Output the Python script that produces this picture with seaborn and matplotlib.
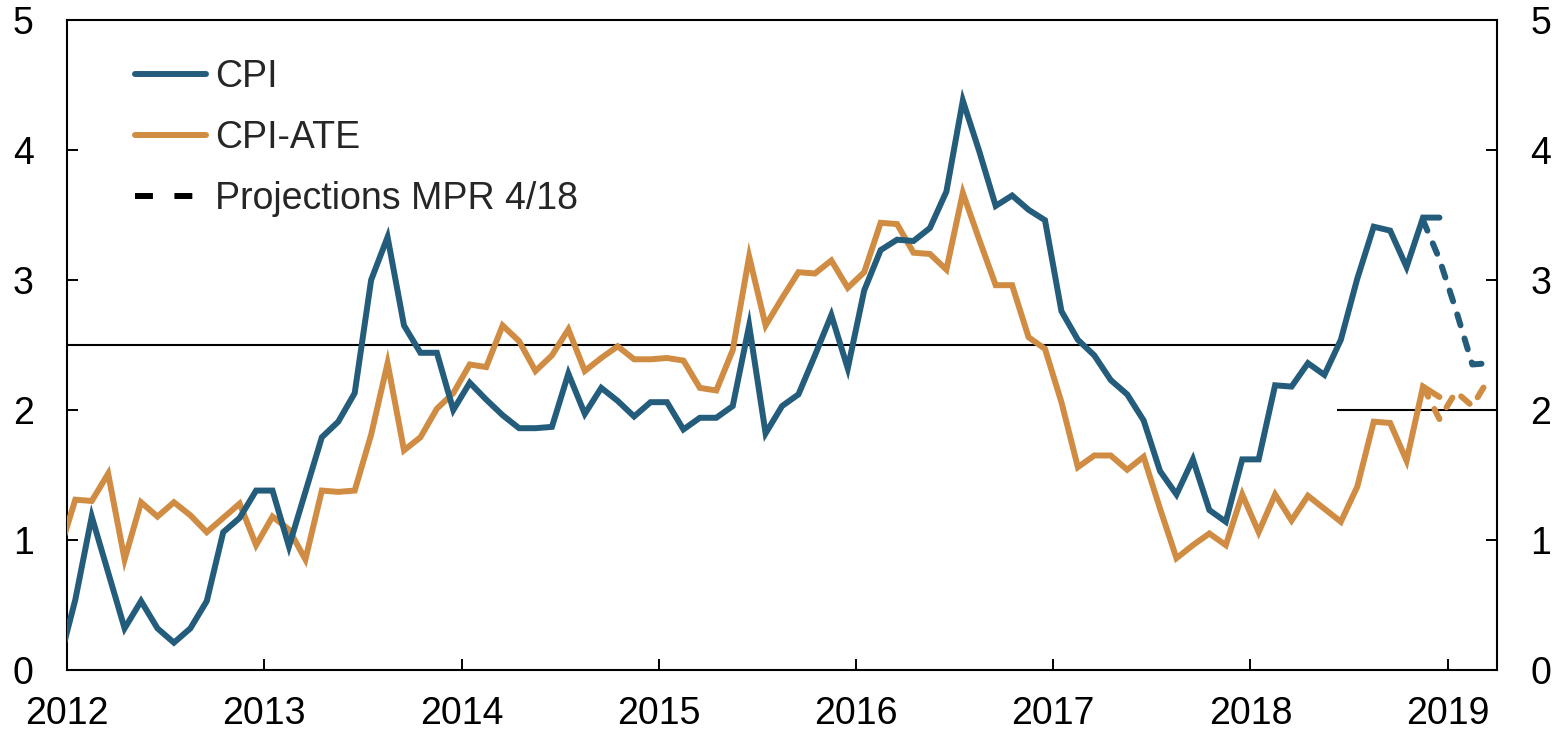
import matplotlib
matplotlib.use("Agg")
import matplotlib.pyplot as plt
from matplotlib.lines import Line2D
import seaborn as sns
import numpy as np
import pandas as pd

# monthly values, Jan 2012 - Dec 2018 (first entry is Dec 2011, clipped by the axis)
cpi = [0.05,
       0.54, 1.18, 0.75, 0.32, 0.53, 0.32, 0.21, 0.32, 0.53, 1.06, 1.17, 1.38,
       1.38, 0.95, 1.37, 1.79, 1.91, 2.13, 3.00, 3.33, 2.65, 2.44, 2.44, 2.00,
       2.21, 2.08, 1.96, 1.86, 1.86, 1.87, 2.28, 1.97, 2.17, 2.07, 1.95, 2.06,
       2.06, 1.85, 1.94, 1.94, 2.03, 2.65, 1.82, 2.03, 2.12, 2.42, 2.73, 2.32,
       2.92, 3.23, 3.31, 3.30, 3.40, 3.68, 4.38, 3.99, 3.57, 3.65, 3.54, 3.46,
       2.76, 2.54, 2.42, 2.23, 2.12, 1.92, 1.53, 1.35, 1.62, 1.23, 1.14, 1.62,
       1.62, 2.19, 2.18, 2.36, 2.27, 2.54, 3.01, 3.41, 3.38, 3.10, 3.48, 3.48]
cpi_ate = [0.90,
           1.31, 1.30, 1.51, 0.85, 1.29, 1.18, 1.29, 1.19, 1.06, 1.17, 1.28, 0.96,
           1.18, 1.08, 0.85, 1.38, 1.37, 1.38, 1.81, 2.36, 1.69, 1.79, 2.01, 2.13,
           2.35, 2.33, 2.65, 2.53, 2.30, 2.42, 2.62, 2.30, 2.40, 2.49, 2.39, 2.39,
           2.40, 2.38, 2.17, 2.15, 2.46, 3.18, 2.65, 2.86, 3.06, 3.05, 3.15, 2.94,
           3.06, 3.44, 3.43, 3.21, 3.20, 3.08, 3.67, 3.31, 2.96, 2.96, 2.56, 2.47,
           2.06, 1.56, 1.65, 1.65, 1.54, 1.64, 1.24, 0.86, 0.96, 1.05, 0.96, 1.35,
           1.06, 1.35, 1.15, 1.34, 1.24, 1.14, 1.41, 1.91, 1.90, 1.61, 2.18, 2.10]

# projections MPR 4/18, Nov 2018 - Mar 2019
proj_cpi = [3.46, 3.16, 2.77, 2.35, 2.36]
proj_ate = [2.18, 1.93, 2.14, 2.03, 2.24]

# inflation target: 2.5 until mid 2018, then 2.0
target_start = [2012.0, 2018.44]
target_end = [2018.44, 2019.25]
target_level = [2.5, 2.0]

years = list(range(2012, 2020))
yticks = [0, 1, 2, 3, 4, 5]

# mid-month positions in fractional years
t_hist = 2011 + 11.5 / 12 + np.arange(len(cpi)) / 12
t_proj = 2018 + 10.5 / 12 + np.arange(len(proj_cpi)) / 12

hist = pd.DataFrame({"t": t_hist, "CPI": cpi, "CPI-ATE": cpi_ate})
proj = pd.DataFrame({"t": t_proj, "CPI": proj_cpi, "CPI-ATE": proj_ate})

blue = "#245C7C"
orange = "#D08C42"

sns.set_style("white")
plt.rcParams["font.family"] = ["Liberation Sans", "DejaVu Sans"]

fig, ax = plt.subplots(figsize=(15.6, 7.33), dpi=100)
fig.subplots_adjust(left=0.043, right=0.9596, bottom=0.086, top=0.9727)

for y0, x0, x1 in zip(target_level, target_start, target_end):
    ax.hlines(y0, x0, x1, color="black", lw=1.5, zorder=1)

lw = 4.3
dash = (0, (1.9, 2.3))
sns.lineplot(data=hist, x="t", y="CPI-ATE", color=orange, lw=lw, ax=ax,
             solid_joinstyle="miter", zorder=3)
sns.lineplot(data=hist, x="t", y="CPI", color=blue, lw=lw, ax=ax,
             solid_joinstyle="miter", zorder=4)
sns.lineplot(data=proj, x="t", y="CPI-ATE", color=orange, lw=lw, ax=ax,
             linestyle=dash, dash_capstyle="round", zorder=3)
sns.lineplot(data=proj, x="t", y="CPI", color=blue, lw=lw, ax=ax,
             linestyle=dash, dash_capstyle="round", zorder=4)

ax.set_xlim(2012, 2019.25)
ax.set_ylim(0, 5)
ax.set_xticks(years)
ax.set_xticklabels([str(y) for y in years])
ax.set_yticks(yticks)
ax.set_xlabel("")
ax.set_ylabel("")

for s in ax.spines.values():
    s.set_visible(True)
    s.set_color("black")
    s.set_linewidth(1.5)

ax.tick_params(axis="both", direction="in", length=8, width=1.4,
               labelsize=27, colors="black")
ax.tick_params(axis="y", left=True, right=True, labelleft=True, labelright=True)
ax.tick_params(axis="y", which="both", pad=24)
ax.tick_params(axis="x", bottom=True, top=False, pad=19)

handles = [
    Line2D([], [], color=blue, lw=lw),
    Line2D([], [], color=orange, lw=lw),
    Line2D([], [], color="black", lw=lw, linestyle=(0, (3, 3.6))),
]
ax.legend(handles, ["CPI", "CPI-ATE", "Projections MPR 4/18"],
          loc="upper left", bbox_to_anchor=(0.0476, 0.94), frameon=False,
          fontsize=27, handlelength=1.9, handletextpad=0.22,
          labelspacing=0.67, borderaxespad=0, borderpad=0)

fig.savefig("out.png", dpi=100)
